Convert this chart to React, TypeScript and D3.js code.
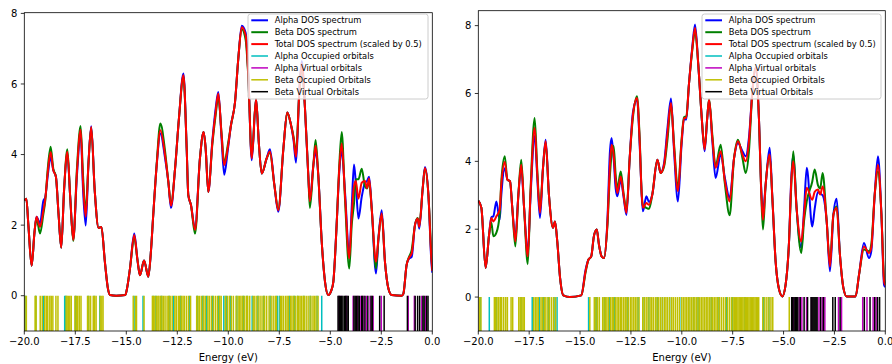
import React from 'react';
import * as d3 from 'd3';

// ---------------- Left panel data ----------------
const leftEnergy = [
  -20.0, -19.9, -19.8, -19.64, -19.5, -19.4, -19.23, -19.07, -18.97, -18.85,
  -18.71, -18.58, -18.45, -18.32, -18.19, -18.05, -17.89, -17.75, -17.6, -17.42,
  -17.24, -17.12, -16.99, -16.85, -16.72, -16.55, -16.36, -16.22, -16.05, -15.9,
  -15.8, -15.5, -15.05, -14.95, -14.82, -14.61, -14.45, -14.33, -14.13, -13.92,
  -13.8, -13.68, -13.51, -13.33, -13.1, -12.94, -12.81, -12.61, -12.42, -12.2,
  -12.04, -11.96, -11.83, -11.63, -11.39, -11.21, -11.11, -10.98, -10.78, -10.62,
  -10.49, -10.33, -10.2, -10.03, -9.87, -9.67, -9.51, -9.34, -9.15, -9.02,
  -8.85, -8.64, -8.5, -8.36, -8.12, -7.96, -7.74, -7.55, -7.3, -7.11,
  -6.95, -6.8, -6.68, -6.52, -6.4, -6.24, -6.08, -6.0, -5.83, -5.72,
  -5.59, -5.42, -5.26, -5.1, -4.95, -4.85, -4.69, -4.56, -4.44, -4.28,
  -4.07, -3.95, -3.84, -3.75, -3.62, -3.46, -3.3, -3.2, -3.1, -2.97,
  -2.76, -2.64, -2.48, -2.32, -2.15, -1.99, -1.5, -1.42, -1.26, -1.14,
  -1.01, -0.85, -0.72, -0.64, -0.47, -0.36, -0.19, -0.05, 0.0,
];
const leftTotal = [
  2.7, 2.75, 2.0, 0.85, 1.8, 2.24, 1.95, 2.4, 2.75, 3.5,
  4.07, 3.56, 3.37, 2.3, 1.36, 3.0, 4.08, 2.8, 1.58, 3.5,
  4.7, 3.2, 2.24, 3.8, 4.78, 3.0, 1.92, 1.95, 0.96, 0.2,
  0.02, 0, 0.02, 0.25, 0.77, 1.72, 1.0, 0.58, 1.0, 0.54,
  1.2, 2.28, 3.7, 4.69, 3.98, 3.23, 2.55, 3.6, 5.02, 6.25,
  4.17, 2.85, 2.57, 1.86, 3.89, 4.64, 4.17, 2.94, 4.36, 5.21,
  5.73, 4.55, 3.7, 4.17, 4.83, 5.49, 6.72, 7.61, 7.38, 6.25,
  3.89, 5.58, 4.3, 3.46, 3.89, 4.09, 3.13, 2.42, 4.17, 5.19,
  4.9, 4.45, 3.93, 5.77, 6.58, 5.3, 3.42, 2.68, 3.7, 4.25,
  3.42, 1.53, 0.4, 0.02, 0.15, 0.4, 2.0, 3.6, 4.31, 2.85,
  1.06, 2.28, 3.1, 3.25, 2.75, 3.2, 3.25, 3.05, 3.32, 2.47,
  0.96, 1.62, 2.33, 0.96, 0.2, 0.02, 0, 0.05, 0.87, 1.08,
  1.2, 2.0, 2.19, 1.95, 3.04, 3.62, 2.85, 1.1, 0.7,
];
const leftAlpha = [
  2.7, 2.75, 2.0, 0.85, 1.8, 2.24, 2.05, 2.68, 2.8, 3.4,
  3.93, 3.56, 3.37, 2.3, 1.36, 3.0, 4.0, 2.8, 1.6, 3.4,
  4.6, 3.0, 1.99, 3.8, 4.8, 3.0, 1.92, 1.95, 0.96, 0.2,
  0.02, 0, 0.02, 0.25, 0.77, 1.76, 1.0, 0.58, 1.0, 0.54,
  1.2, 2.28, 3.7, 4.6, 3.9, 3.23, 2.49, 3.6, 5.02, 6.3,
  4.17, 2.85, 2.57, 1.9, 3.89, 4.64, 4.17, 2.94, 4.4, 5.3,
  5.77, 4.45, 3.43, 4.1, 4.83, 5.49, 6.72, 7.65, 7.45, 6.3,
  3.84, 5.58, 4.3, 3.46, 3.89, 4.15, 3.13, 2.38, 4.17, 5.19,
  4.9, 4.4, 3.77, 5.77, 6.65, 5.3, 3.42, 2.7, 3.7, 4.1,
  3.42, 1.53, 0.4, 0.02, 0.15, 0.4, 2.0, 3.5, 4.08, 2.95,
  1.15, 2.5, 3.72, 3.2, 2.19, 2.8, 3.2, 3.25, 3.37, 2.5,
  0.63, 1.62, 2.42, 0.96, 0.2, 0.02, 0, 0.05, 0.87, 1.05,
  1.1, 2.0, 2.18, 1.9, 3.04, 3.65, 2.85, 1.0, 0.65,
];
const leftBeta = [
  2.7, 2.75, 2.0, 0.85, 1.8, 2.2, 1.76, 2.3, 2.7, 3.6,
  4.22, 3.6, 3.37, 2.3, 1.36, 3.0, 4.15, 2.8, 1.55, 3.6,
  4.81, 3.4, 2.4, 3.8, 4.75, 3.0, 1.92, 1.95, 0.96, 0.2,
  0.02, 0, 0.02, 0.25, 0.77, 1.65, 1.0, 0.58, 1.0, 0.54,
  1.2, 2.28, 3.75, 4.88, 4.1, 3.23, 2.6, 3.6, 5.02, 6.2,
  4.17, 2.85, 2.57, 1.76, 3.89, 4.64, 4.17, 2.94, 4.3, 5.12,
  5.63, 4.6, 3.75, 4.25, 4.83, 5.49, 6.72, 7.55, 7.25, 6.2,
  3.95, 5.58, 4.3, 3.46, 3.89, 4.05, 3.13, 2.45, 4.17, 5.19,
  4.9, 4.5, 4.05, 5.77, 6.5, 5.3, 3.42, 2.49, 3.7, 4.41,
  3.42, 1.53, 0.4, 0.02, 0.15, 0.4, 2.0, 3.7, 4.64, 2.75,
  0.77, 2.0, 2.6, 3.3, 3.3, 3.6, 3.1, 3.04, 3.25, 2.45,
  0.77, 1.62, 2.3, 0.96, 0.2, 0.02, 0, 0.05, 0.87, 1.1,
  1.3, 2.0, 2.2, 2.0, 3.04, 3.6, 2.85, 1.2, 0.75,
];
const leftAlphaOcc = [
  -19.93, -19.44, -19.05, -18.02, -17.97, -17.48, -16.87, -16.58, -16.3, -14.62,
  -14.18, -13.69, -13.55, -13.28, -12.9, -12.68, -12.34, -11.9, -11.52, -11.25,
  -11.06, -10.77, -10.47, -10.22, -10.1, -9.9, -9.58, -9.26, -9.08, -8.83,
  -8.55, -8.26, -7.95, -7.6, -7.5, -7.0, -6.77, -6.6, -6.3, -5.98, -5.65, -5.42,
];
const leftAlphaVirt = [
  -4.58, -4.47, -4.22, -3.88, -3.68, -3.5, -3.35, -3.22, -3.05, -2.9, -2.5, -1.18, -0.88, -0.52, -0.33,
];
const leftBetaOcc = [
  -19.97, -19.9, -19.47, -19.42, -19.22, -19.12, -19.0, -18.92, -18.85, -18.75,
  -18.68, -18.6, -18.45, -18.35, -17.95, -17.9, -17.84, -17.77, -17.7, -17.52,
  -17.45, -17.38, -17.3, -17.22, -16.9, -16.83, -16.75, -16.62, -16.55, -16.48,
  -16.28, -16.2, -16.14,
  -14.66, -14.55, -14.5, -14.13,
  -13.72, -13.66, -13.6, -13.52, -13.45, -13.4, -13.32, -13.25, -13.18, -13.1,
  -13.0, -12.92, -12.85, -12.75, -12.62, -12.55, -12.45, -12.38, -12.3, -12.22,
  -12.15, -12.05, -11.95, -11.85,
  -11.55, -11.48, -11.4, -11.3, -11.2, -11.12, -11.0, -10.92, -10.82, -10.72,
  -10.62, -10.52, -10.42, -10.35,
  -10.15, -10.05, -9.95, -9.85, -9.75, -9.62, -9.52, -9.45, -9.38, -9.3,
  -9.22, -9.12, -9.05, -8.95,
  -8.78, -8.7, -8.6, -8.5, -8.4, -8.3, -8.22, -8.12, -8.0, -7.9, -7.8, -7.7, -7.64,
  -7.45, -7.38, -7.3, -7.2, -7.12, -7.05, -6.95, -6.88, -6.8, -6.72,
  -6.62, -6.55, -6.48, -6.4, -6.32, -6.25, -6.15, -6.05, -5.95, -5.85,
  -5.78, -5.7, -5.6,
];
const leftBetaVirt = [
  -4.62, -4.56, -4.51, -4.44, -4.38, -4.3, -4.25, -4.18, -4.12, -3.84,
  -3.78, -3.72, -3.64, -3.58, -3.46, -3.41, -3.3, -3.16, -3.0, -2.94,
  -2.58, -2.36, -1.22, -0.84, -0.72, -0.62, -0.46, -0.4, -0.28, -0.21,
];

// ---------------- Right panel data ----------------
const rightEnergy = [
  -20.0, -19.85, -19.64, -19.47, -19.36, -19.26, -19.11, -18.95, -18.87, -18.7,
  -18.57, -18.44, -18.33, -18.18, -18.03, -17.89, -17.75, -17.57, -17.43, -17.23,
  -17.1, -16.97, -16.82, -16.69, -16.53, -16.33, -16.23, -16.12, -15.98, -15.82,
  -15.5, -14.94, -14.73, -14.59, -14.45, -14.32, -14.18, -14.07, -13.94, -13.82,
  -13.66, -13.53, -13.45, -13.35, -13.25, -13.17, -13.0, -12.86, -12.72, -12.56,
  -12.4, -12.2, -12.07, -11.97, -11.91, -11.74, -11.61, -11.45, -11.2, -11.04,
  -10.87, -10.71, -10.53, -10.38, -10.19, -10.01, -9.89, -9.78, -9.65, -9.48,
  -9.35, -9.19, -9.02, -8.88, -8.75, -8.66, -8.5, -8.34, -8.09, -7.88,
  -7.65, -7.43, -7.24, -7.02, -6.86, -6.7, -6.53, -6.37, -6.21, -6.09,
  -6.01, -5.88, -5.68, -5.55, -5.39, -5.22, -5.06, -4.9, -4.73, -4.62,
  -4.52, -4.36, -4.13, -3.99, -3.86, -3.59, -3.47, -3.31, -3.2, -3.08,
  -2.88, -2.72, -2.55, -2.39, -2.23, -2.06, -1.9, -1.46, -1.29, -1.05,
  -0.8, -0.69, -0.52, -0.36, -0.19, -0.06, 0.0,
];
const rightTotal = [
  2.84, 2.63, 0.86, 1.84, 2.33, 2.23, 2.38, 2.58, 3.31, 3.98,
  3.46, 3.41, 2.63, 1.64, 3.02, 3.9, 2.63, 1.2, 3.12, 4.99,
  3.61, 2.48, 3.81, 4.59, 3.02, 2.04, 2.23, 1.64, 0.56, 0.05,
  0, 0.05, 0.76, 1.1, 1.2, 1.79, 1.99, 1.54, 1.2, 1.15,
  2.13, 3.9, 4.49, 4.2, 3.41, 3.07, 3.55, 3.0, 2.48, 4.1,
  5.38, 5.87, 4.59, 3.02, 2.63, 2.77, 2.72, 3.02, 4.05, 3.66,
  3.9, 4.79, 5.72, 4.4, 3.12, 4.59, 5.28, 5.28, 6.26, 7.35,
  7.94, 6.85, 5.28, 4.35, 5.28, 5.82, 4.69, 3.81, 4.3, 3.41,
  2.82, 4.1, 4.59, 4.2, 4.0, 4.59, 6.07, 6.76, 5.28, 3.02,
  2.28, 3.31, 4.2, 2.92, 1.05, 0.22, 0.02, 0.36, 1.64, 3.41,
  4.0, 2.63, 1.64, 2.43, 3.22, 2.87, 3.1, 3.17, 3.02, 3.26,
  2.23, 0.9, 2.43, 2.63, 1.25, 0.27, 0.02, 0.02, 0.66, 1.49,
  1.3, 1.45, 3.02, 3.9, 2.43, 0.46, 0.35,
];
const rightAlpha = [
  2.84, 2.63, 0.86, 1.84, 2.35, 2.38, 2.82, 2.28, 3.0, 3.8,
  3.46, 3.41, 2.63, 1.75, 3.02, 3.8, 2.63, 1.3, 3.0, 4.75,
  3.5, 2.33, 3.81, 4.64, 3.02, 2.04, 2.23, 1.64, 0.56, 0.05,
  0, 0.05, 0.8, 1.1, 1.2, 1.79, 1.99, 1.54, 1.2, 1.15,
  2.2, 4.3, 4.69, 4.1, 3.2, 2.97, 3.45, 2.95, 2.42, 4.1,
  5.45, 5.82, 4.5, 3.0, 2.53, 2.97, 2.8, 3.02, 4.05, 3.66,
  3.95, 4.94, 5.85, 4.3, 2.82, 4.5, 5.25, 5.23, 6.26, 7.4,
  8.03, 6.85, 5.28, 4.3, 5.28, 5.8, 4.6, 3.51, 4.2, 3.5,
  2.92, 4.1, 4.54, 4.3, 4.15, 4.7, 6.07, 6.76, 5.28, 3.1,
  2.53, 3.31, 4.4, 2.92, 1.05, 0.22, 0.02, 0.36, 1.64, 3.5,
  4.2, 2.63, 1.45, 2.6, 3.81, 2.08, 2.6, 3.1, 3.05, 3.0,
  2.23, 0.76, 2.43, 2.9, 1.25, 0.27, 0.02, 0.02, 0.66, 1.59,
  1.15, 1.35, 3.02, 4.15, 2.43, 0.36, 0.3,
];
const rightBeta = [
  2.84, 2.63, 0.86, 1.84, 2.2, 1.79, 1.9, 2.43, 3.4, 4.15,
  3.46, 3.41, 2.63, 1.49, 3.02, 4.05, 2.63, 0.97, 3.2, 5.28,
  3.72, 2.6, 3.81, 4.54, 3.02, 2.04, 2.23, 1.64, 0.56, 0.05,
  0, 0.05, 0.72, 1.1, 1.2, 1.79, 1.99, 1.54, 1.2, 1.15,
  2.05, 3.6, 4.2, 4.45, 3.6, 3.2, 3.7, 3.05, 2.55, 4.1,
  5.3, 5.92, 4.68, 3.05, 2.7, 2.63, 2.6, 3.02, 4.05, 3.66,
  3.85, 4.6, 5.67, 4.5, 3.2, 4.65, 5.3, 5.33, 6.26, 7.3,
  7.85, 6.85, 5.28, 4.4, 5.28, 5.84, 4.78, 3.86, 4.49, 3.32,
  2.41, 4.1, 4.64, 4.1, 3.66, 4.3, 6.07, 6.76, 5.28, 2.94,
  1.99, 3.31, 4.15, 2.92, 1.05, 0.22, 0.02, 0.36, 1.64, 3.3,
  4.3, 2.63, 1.3, 2.26, 2.82, 3.4, 3.76, 3.3, 3.2, 3.66,
  2.23, 1.0, 2.43, 2.67, 1.25, 0.27, 0.02, 0.02, 0.66, 1.4,
  1.35, 1.55, 3.02, 3.7, 2.43, 0.55, 0.4,
];
const rightAlphaOcc = [
  -19.9, -19.46, -19.12, -18.9, -17.9, -17.35, -17.0, -16.8, -16.55, -16.28,
  -16.13, -14.58, -14.26, -14.18, -13.8, -13.55, -13.3, -12.65, -12.15, -11.85,
  -11.62, -11.2, -10.95, -10.6, -10.1, -9.66, -9.42, -9.2, -8.55, -8.22,
  -7.8, -7.52, -6.9, -5.98, -5.72,
];
const rightAlphaVirt = [
  -4.52, -4.23, -4.1, -3.87, -3.62, -3.26, -3.1, -2.97, -2.3, -2.15, -1.11, -0.9, -0.6, -0.45,
];
const rightBetaOcc = [
  -19.95, -19.87, -19.21, -19.15, -19.08, -19.0, -18.92, -18.85, -18.75, -18.65,
  -18.57, -18.39, -18.31, -18.01, -17.94, -17.86, -17.8, -17.74, -17.28, -17.2,
  -17.12, -17.05, -16.92, -16.85, -16.76, -16.68, -16.58, -16.5, -16.4, -16.3, -16.2,
  -14.52, -14.3, -14.22, -14.14, -14.05,
  -13.89, -13.82, -13.75, -13.68, -13.6, -13.5, -13.42, -13.35, -13.26, -13.18,
  -13.1, -13.02, -12.95, -12.86, -12.78, -12.7, -12.62, -12.52, -12.45, -12.36,
  -12.28, -12.2, -12.1,
  -11.92, -11.84, -11.75, -11.66, -11.56, -11.48, -11.4, -11.3, -11.22, -11.14,
  -11.05, -10.96, -10.86, -10.78, -10.7, -10.6, -10.5, -10.42, -10.32, -10.22, -10.12,
  -10.0, -9.92, -9.84, -9.76, -9.68, -9.6, -9.52, -9.44, -9.36, -9.28,
  -9.2, -9.12, -9.04, -8.96, -8.88, -8.8, -8.72, -8.64, -8.56, -8.48,
  -8.4, -8.32, -8.24, -8.16, -8.06, -7.96, -7.86, -7.76, -7.66, -7.56,
  -7.48, -7.42, -7.36, -7.3, -7.24, -7.18, -7.12, -7.06, -7.0, -6.94,
  -6.88, -6.82, -6.76, -6.7, -6.64, -6.58, -6.52, -6.46, -6.4, -6.34, -6.28, -6.22,
  -6.02, -5.92, -5.82, -5.72, -5.62, -5.53,
  -4.72,
];
const rightBetaVirt = [
  -4.6, -4.55, -4.48, -4.42, -4.36, -4.3, -4.18, -3.99, -3.82, -3.65,
  -3.6, -3.55, -3.5, -3.45, -3.4, -3.35, -3.18, -3.04, -2.58, -2.46,
  -2.22, -1.03, -0.75, -0.52, -0.38, -0.28,
];

// ---------------- Shared labels ----------------
const xTicks = [-20, -17.5, -15, -12.5, -10, -7.5, -5, -2.5, 0];
const yTicks = [0, 2, 4, 6, 8];
const legendLabels = [
  'Alpha DOS spectrum',
  'Beta DOS spectrum',
  'Total DOS spectrum (scaled by 0.5)',
  'Alpha Occupied orbitals',
  'Alpha Virtual orbitals',
  'Beta Occupied Orbitals',
  'Beta Virtual Orbitals',
];
const legendColors = ['#0000ff', '#008000', '#ff0000', '#00bfbf', '#bf00bf', '#bfbf00', '#000000'];

const FONT = '"DejaVu Sans", sans-serif';

type PanelSpec = {
  id: string;
  x0: number;
  x1: number;
  yTop: number;
  yBot: number;
  ymax: number;
  legendX: number;
  legendW: number;
  energy: number[];
  alpha: number[];
  beta: number[];
  total: number[];
  alphaOcc: number[];
  alphaVirt: number[];
  betaOcc: number[];
  betaVirt: number[];
};

const panels: PanelSpec[] = [
  {
    id: 'L', x0: 24.3, x1: 432.3, yTop: 12.7, yBot: 331, ymax: 8.02, legendX: 248, legendW: 180,
    energy: leftEnergy, alpha: leftAlpha, beta: leftBeta, total: leftTotal,
    alphaOcc: leftAlphaOcc, alphaVirt: leftAlphaVirt, betaOcc: leftBetaOcc, betaVirt: leftBetaVirt,
  },
  {
    id: 'R', x0: 478.3, x1: 885.3, yTop: 10.7, yBot: 331, ymax: 8.44, legendX: 702, legendW: 179,
    energy: rightEnergy, alpha: rightAlpha, beta: rightBeta, total: rightTotal,
    alphaOcc: rightAlphaOcc, alphaVirt: rightAlphaVirt, betaOcc: rightBetaOcc, betaVirt: rightBetaVirt,
  },
];

function Panel({ p }: { p: PanelSpec }) {
  const x = d3.scaleLinear().domain([-20, 0]).range([p.x0, p.x1]);
  const y = d3.scaleLinear().domain([-1, p.ymax]).range([p.yBot, p.yTop]);
  const mk = (vals: number[]) =>
    d3
      .line<number>()
      .x((_, i) => x(p.energy[i]))
      .y((d) => y(d))
      .curve(d3.curveMonotoneX)(vals) || '';
  const clipId = 'clip' + p.id;
  const sticks = (arr: number[], color: string) =>
    arr.map((e, i) => (
      <line key={color + i} x1={x(e)} x2={x(e)} y1={y(-1)} y2={y(0)} stroke={color} strokeWidth={1.5} />
    ));
  const rowY = (i: number) => 20.3 + i * 11.9;
  const lx = p.legendX;
  return (
    <g>
      <defs>
        <clipPath id={clipId}>
          <rect x={p.x0} y={p.yTop} width={p.x1 - p.x0} height={p.yBot - p.yTop} />
        </clipPath>
      </defs>
      <g clipPath={`url(#${clipId})`} fill="none">
        <path d={mk(p.alpha)} stroke="#0000ff" strokeWidth={2} />
        <path d={mk(p.beta)} stroke="#008000" strokeWidth={2} />
        <path d={mk(p.total)} stroke="#ff0000" strokeWidth={2} />
        {sticks(p.alphaOcc, '#00bfbf')}
        {sticks(p.alphaVirt, '#bf00bf')}
        {sticks(p.betaOcc, '#bfbf00')}
        {sticks(p.betaVirt, '#000000')}
      </g>
      <rect x={p.x0} y={p.yTop} width={p.x1 - p.x0} height={p.yBot - p.yTop} fill="none" stroke="#000" strokeWidth={0.8} />
      {xTicks.map((t) => (
        <g key={'x' + t}>
          <line x1={x(t)} x2={x(t)} y1={p.yBot} y2={p.yBot + 3.5} stroke="#000" strokeWidth={0.8} />
          <text x={x(t)} y={345.3} textAnchor="middle" fontSize={10} fontFamily={FONT} fill="#000">
            {(t < 0 ? '\u2212' : '') + Math.abs(t).toFixed(1)}
          </text>
        </g>
      ))}
      {yTicks.map((t) => (
        <g key={'y' + t}>
          <line x1={p.x0 - 3.5} x2={p.x0} y1={y(t)} y2={y(t)} stroke="#000" strokeWidth={0.8} />
          <text x={p.x0 - 7} y={y(t) + 3.6} textAnchor="end" fontSize={10} fontFamily={FONT} fill="#000">
            {String(t)}
          </text>
        </g>
      ))}
      <text x={(p.x0 + p.x1) / 2} y={361} textAnchor="middle" fontSize={10} fontFamily={FONT} fill="#000">
        Energy (eV)
      </text>
      <rect x={lx} y={14} width={p.legendW} height={85} rx={2.5} fill="#ffffff" fillOpacity={0.8} stroke="#cccccc" strokeWidth={1} />
      {legendLabels.map((lab, i) => (
        <g key={lab}>
          <line x1={lx + 3.3} x2={lx + 20} y1={rowY(i)} y2={rowY(i)} stroke={legendColors[i]} strokeWidth={i < 3 ? 2 : 1.5} />
          <text x={lx + 26.7} y={rowY(i) + 3} fontSize={8.33} fontFamily={FONT} fill="#000">
            {lab}
          </text>
        </g>
      ))}
    </g>
  );
}

export default function App() {
  return (
    <svg
      width={892}
      height={364}
      viewBox="0 0 892 364"
      style={{ position: 'absolute', left: 0, top: 0, background: '#fff' }}
    >
      <rect x={0} y={0} width={892} height={364} fill="#fff" />
      {panels.map((p) => (
        <Panel key={p.id} p={p} />
      ))}
    </svg>
  );
}
